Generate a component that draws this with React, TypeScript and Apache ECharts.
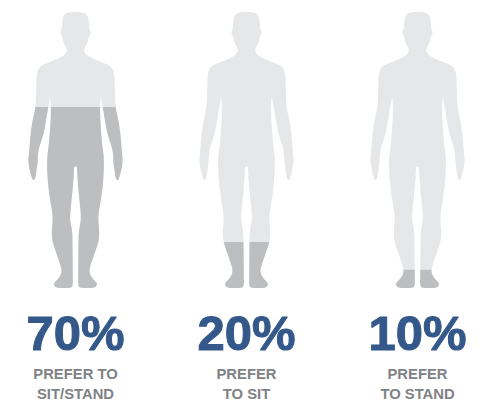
import React, { useEffect, useRef } from "react";
import * as echarts from "echarts";

const categories = ["PREFER TO\nSIT/STAND", "PREFER\nTO SIT", "PREFER\nTO STAND"];
const shareLabels = ["70%", "20%", "10%"];
// How far up the silhouette the dark fill reaches (% of body height)
const fillLevels = [65.6, 16.7, 6.6];
const fullLevels = [100, 100, 100];

// Right half of the silhouette as [offset from centre, height from top]
const half: [number, number][] = [
  [0, 12], [7, 12], [12, 15], [13.5, 22], [13.5, 29], [15, 30], [15, 34], [13, 37.5],
  [12, 43], [9, 48], [8.6, 52], [11, 55], [18, 59], [27, 62.5], [34.5, 65.5], [38.5, 71],
  [39.2, 80], [39.4, 95], [40, 108], [42.5, 118], [45, 133], [46.2, 150], [47.3, 160], [46.4, 168], [43.8, 178],
  [42, 180.8], [40, 178], [39.3, 171], [37.8, 163], [37.8, 155], [36.7, 148], [31.5, 133], [29, 117], [27, 106], [25.4, 97],
  [25, 97], [24.4, 115], [26.6, 145], [28.3, 155], [28.5, 170], [27, 190], [24.5, 205], [22.4, 217], [23.8, 230], [23.6, 240],
  [20, 251], [15, 265], [13.4, 272], [17, 279], [22, 283], [20.5, 287.5], [15, 288], [5, 288], [2.6, 286], [2.8, 274],
  [3, 240], [3.4, 230], [5.8, 219], [4.5, 205], [2.4, 185], [1.6, 171], [1.5, 166.5], [0, 166.5],
];

function buildSilhouette(points: [number, number][]): string {
  const right = points.map(([dx, y]) => [47 + dx, y]);
  const left = points.slice(1, -1).reverse().map(([dx, y]) => [47 - dx, y]);
  const all = [...right, ...left];
  const mid = (a: number[], b: number[]) => [(a[0] + b[0]) / 2, (a[1] + b[1]) / 2];
  const start = mid(all[all.length - 1], all[0]);
  let d = `M${start[0]} ${start[1]}`;
  all.forEach((p, i) => {
    const m = mid(p, all[(i + 1) % all.length]);
    d += `Q${p[0]} ${p[1]} ${m[0]} ${m[1]}`;
  });
  return d + "Z";
}

const silhouette = "path://" + buildSilhouette(half);

export default function App() {
  const ref = useRef<HTMLDivElement>(null);
  useEffect(() => {
    document.body.style.margin = "0";
    const chart = echarts.init(ref.current!, undefined, { renderer: "svg" });
    const common = {
      type: "pictorialBar",
      symbol: silhouette,
      symbolSize: [94, "100%"],
      symbolPosition: "start",
      symbolBoundingData: 100,
      barGap: "-100%",
      silent: true,
    };
    chart.setOption({
      animation: false,
      backgroundColor: "#ffffff",
      grid: { left: -10, width: 513, top: 12, height: 276, containLabel: false, outerBoundsMode: "none" },
      xAxis: {
        type: "category",
        data: categories,
        axisLine: { show: false },
        axisTick: { show: false },
        axisLabel: {
          interval: 0,
          margin: 13,
          formatter: (value: string, i: number) =>
            `{pct|${shareLabels[i]}}\n` + value.split("\n").map((l) => `{cap|${l}}`).join("\n"),
          rich: {
            pct: {
              fontFamily: "Liberation Sans",
              fontWeight: "bold",
              fontSize: 49,
              lineHeight: 63,
              color: "#34588a",
              textBorderColor: "#34588a",
              textBorderWidth: 1,
            },
            cap: {
              fontFamily: "Liberation Sans",
              fontWeight: "bold",
              fontSize: 14.8,
              lineHeight: 20,
              color: "#808285",
            },
          },
        },
      },
      yAxis: { type: "value", min: 0, max: 100, show: false },
      series: [
        { ...common, name: "Body", data: fullLevels, z: 1, itemStyle: { color: "#e6e7e8" } },
        { ...common, name: "Share", data: fillLevels, symbolClip: true, z: 2, itemStyle: { color: "#bcbec0" } },
      ],
    });
    return () => chart.dispose();
  }, []);
  return <div ref={ref} style={{ width: 491, height: 402 }} />;
}
